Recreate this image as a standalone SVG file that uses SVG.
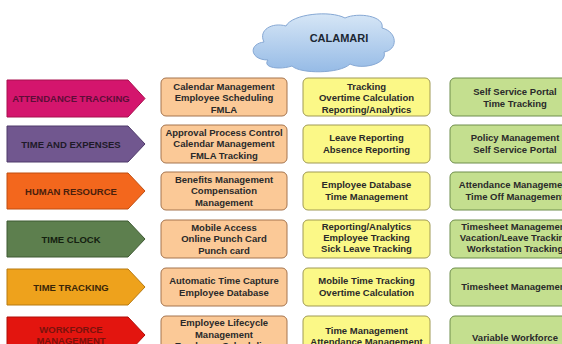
<svg xmlns="http://www.w3.org/2000/svg" width="562" height="344" viewBox="0 0 562 344">
<defs>
<linearGradient id="cg" x1="0" y1="0" x2="0" y2="1">
<stop offset="0" stop-color="#d6e6f6"/>
<stop offset="1" stop-color="#96bbe6"/>
</linearGradient>
<style>
text{font-family:"Liberation Sans",Arial,sans-serif;font-weight:bold;font-size:9.5px;text-anchor:middle;fill:#2a2a2a}
.o{fill:#fbc997;stroke:#a5744e;stroke-width:1}
.y{fill:#fbf887;stroke:#a09a55;stroke-width:1}
.g{fill:#c4df8f;stroke:#6f8e4c;stroke-width:1}
.ar{stroke-width:1}
</style>
</defs>
<rect width="562" height="344" fill="#ffffff"/>

<g id="calamari">
<path d="M268,60 C250,60 248,44 264,42 C258,30 272,22 286,26 C292,14 330,10 345,18 C358,12 385,16 382,28 C398,32 398,50 384,52 C388,64 362,70 350,64 C340,74 300,74 292,66 C280,70 262,68 268,60 Z" fill="url(#cg)" stroke="#86a8d4"/>
<text x="339" y="42" style="font-size:11px;fill:#1c2733">CALAMARI</text>
</g>

<g id="attendance-tracking">
<polygon class="ar" points="7,80 128,80 145,98.5 128,117 7,117" fill="#d4156d" stroke="#a8104f"/>
<text x="71" y="102" style="fill:#5e0d38">ATTENDANCE TRACKING</text>
</g>
<g id="time-and-expenses">
<polygon class="ar" points="7,126 128,126 145,144 128,162 7,162" fill="#71578f" stroke="#4f3a6a"/>
<text x="71" y="147.5" style="fill:#1e1a28">TIME AND EXPENSES</text>
</g>
<g id="human-resource">
<polygon class="ar" points="7,173 128,173 145,191 128,209 7,209" fill="#f3671d" stroke="#c04e10"/>
<text x="71" y="194.5" style="fill:#4a200c">HUMAN RESOURCE</text>
</g>
<g id="time-clock">
<polygon class="ar" points="7,221 128,221 145,239 128,257 7,257" fill="#5d7f4e" stroke="#3f5a33"/>
<text x="71" y="242.5" style="fill:#142010">TIME CLOCK</text>
</g>
<g id="time-tracking">
<polygon class="ar" points="7,269 128,269 145,287 128,305 7,305" fill="#eea21c" stroke="#b77a10"/>
<text x="71" y="290.5" style="fill:#3a2608">TIME TRACKING</text>
</g>
<g id="workforce-management">
<polygon class="ar" points="7,317 128,317 145,335 128,353 7,353" fill="#e3150f" stroke="#b00e08"/>
<text x="71" y="332.5" style="fill:#7a120c">WORKFORCE</text>
<text x="71" y="343.5" style="fill:#7a120c">MANAGEMENT</text>
</g>

<!-- column 1 -->
<g id="c1r1"><rect class="o" x="161" y="78" width="126" height="38" rx="5"/>
<text x="224" y="89.5">Calendar Management</text><text x="224" y="101">Employee Scheduling</text><text x="224" y="112.5">FMLA</text></g>
<g id="c1r2"><rect class="o" x="161" y="125" width="126" height="38" rx="5"/>
<text x="224" y="135.5">Approval Process Control</text><text x="224" y="147">Calendar Management</text><text x="224" y="158.5">FMLA Tracking</text></g>
<g id="c1r3"><rect class="o" x="161" y="172" width="126" height="38" rx="5"/>
<text x="224" y="182.5">Benefits Management</text><text x="224" y="194">Compensation</text><text x="224" y="205.5">Management</text></g>
<g id="c1r4"><rect class="o" x="161" y="220" width="126" height="38" rx="5"/>
<text x="224" y="230.5">Mobile Access</text><text x="224" y="242">Online Punch Card</text><text x="224" y="253.5">Punch card</text></g>
<g id="c1r5"><rect class="o" x="161" y="268" width="126" height="38" rx="5"/>
<text x="224" y="284.3">Automatic Time Capture</text><text x="224" y="295.8">Employee Database</text></g>
<g id="c1r6"><rect class="o" x="161" y="316" width="126" height="44" rx="5"/>
<text x="224" y="326">Employee Lifecycle</text><text x="224" y="337.5">Management</text><text x="224" y="349">Employee Scheduling</text></g>

<!-- column 2 -->
<g id="c2r1"><rect class="y" x="303" y="78" width="127" height="38" rx="5"/>
<text x="366.5" y="89.5">Tracking</text><text x="366.5" y="101">Overtime Calculation</text><text x="366.5" y="112.5">Reporting/Analytics</text></g>
<g id="c2r2"><rect class="y" x="303" y="125" width="127" height="38" rx="5"/>
<text x="366.5" y="141.3">Leave Reporting</text><text x="366.5" y="152.8">Absence Reporting</text></g>
<g id="c2r3"><rect class="y" x="303" y="172" width="127" height="38" rx="5"/>
<text x="366.5" y="188.3">Employee Database</text><text x="366.5" y="199.8">Time Management</text></g>
<g id="c2r4"><rect class="y" x="303" y="220" width="127" height="38" rx="5"/>
<text x="366.5" y="230">Reporting/Analytics</text><text x="366.5" y="241">Employee Tracking</text><text x="366.5" y="252">Sick Leave Tracking</text></g>
<g id="c2r5"><rect class="y" x="303" y="268" width="127" height="38" rx="5"/>
<text x="366.5" y="284.3">Mobile Time Tracking</text><text x="366.5" y="295.8">Overtime Calculation</text></g>
<g id="c2r6"><rect class="y" x="303" y="316" width="127" height="44" rx="5"/>
<text x="366.5" y="333.5">Time Management</text><text x="366.5" y="345">Attendance Management</text></g>

<!-- column 3 -->
<g id="c3r1"><rect class="g" x="450" y="78" width="130" height="38" rx="5"/>
<text x="515" y="95.3">Self Service Portal</text><text x="515" y="106.8">Time Tracking</text></g>
<g id="c3r2"><rect class="g" x="450" y="125" width="130" height="38" rx="5"/>
<text x="515" y="141.3">Policy Management</text><text x="515" y="152.8">Self Service Portal</text></g>
<g id="c3r3"><rect class="g" x="450" y="172" width="130" height="38" rx="5"/>
<text x="515" y="188.3">Attendance Management</text><text x="515" y="199.8">Time Off Management</text></g>
<g id="c3r4"><rect class="g" x="450" y="220" width="130" height="38" rx="5"/>
<text x="515" y="230">Timesheet Management</text><text x="515" y="241">Vacation/Leave Tracking</text><text x="515" y="252">Workstation Tracking</text></g>
<g id="c3r5"><rect class="g" x="450" y="268" width="130" height="38" rx="5"/>
<text x="515" y="290">Timesheet Management</text></g>
<g id="c3r6"><rect class="g" x="450" y="316" width="130" height="44" rx="5"/>
<text x="515" y="340.5">Variable Workforce</text></g>

<g id="connectors"/>
</svg>
